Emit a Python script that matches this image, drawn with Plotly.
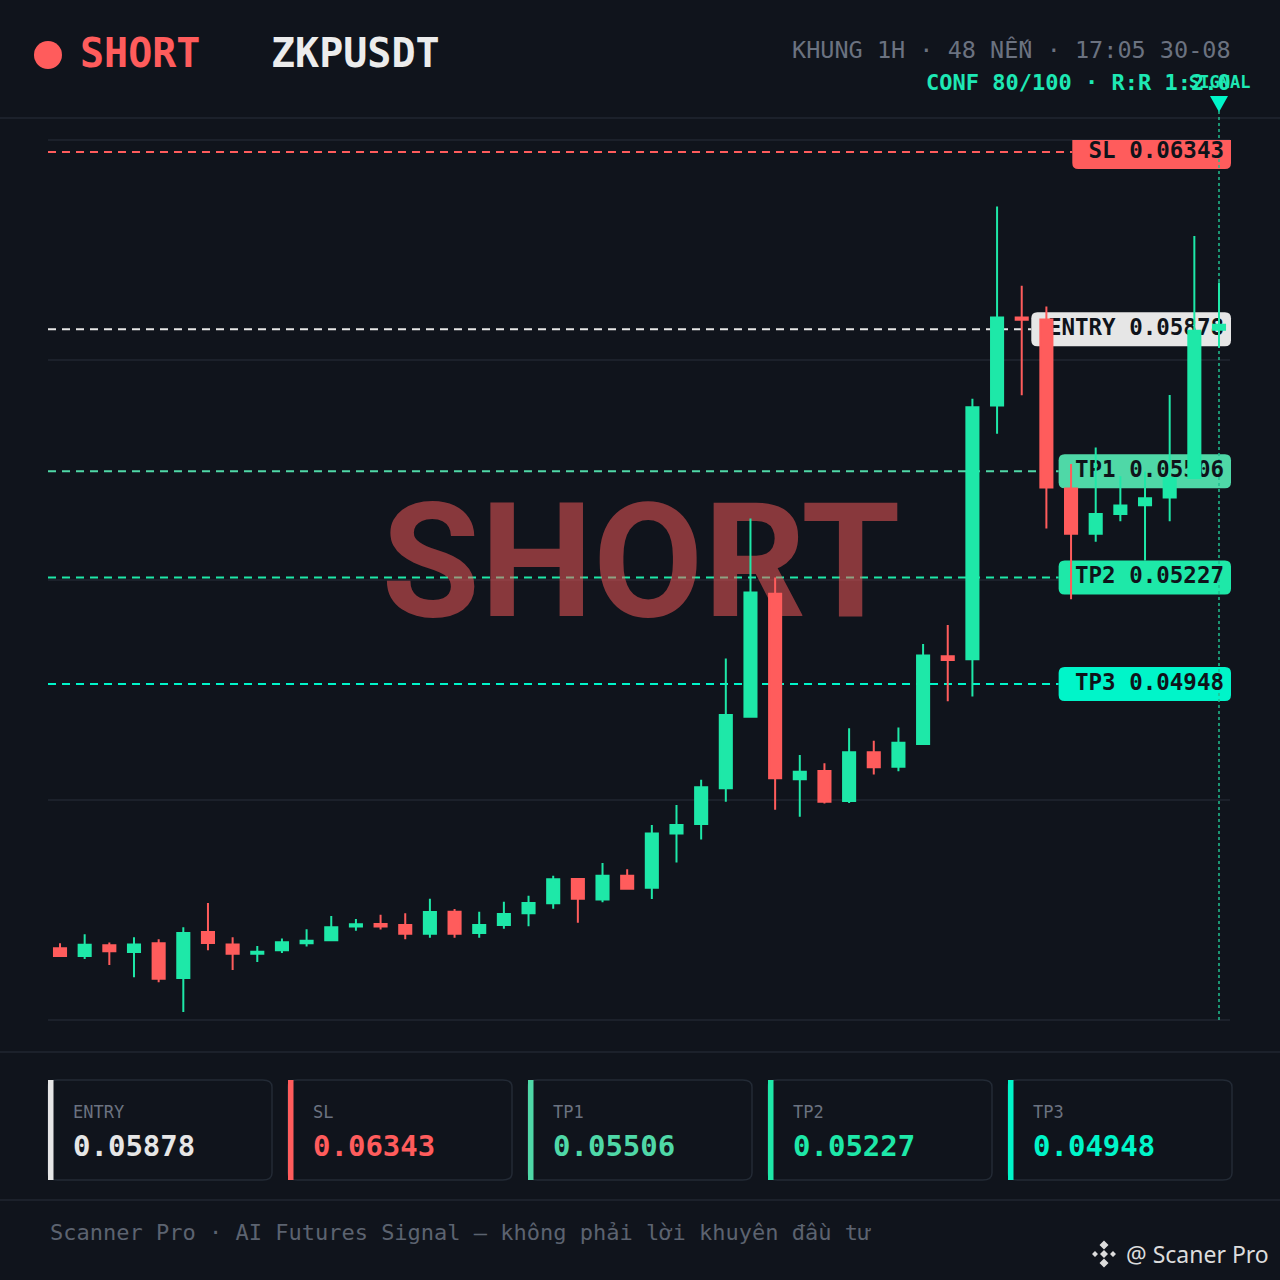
import plotly.graph_objects as go

# ---- signal info ----
side = "SHORT"
symbol = "ZKPUSDT"
header_info = "KHUNG 1H · 48 NẾN · 17:05 30-08"
conf_info = "CONF 80/100 · R:R 1:2.0"
footer_text = "Scanner Pro · AI Futures Signal — không phải lời khuyên đầu tư"
brand = "@ Scaner Pro"

# ---- 48 hourly candles ----
opens = [0.04255, 0.04235, 0.04263, 0.04245, 0.04268, 0.04177, 0.04298, 0.04265,
         0.04241, 0.04250, 0.04268, 0.04276, 0.04312, 0.04319, 0.04316, 0.04293,
         0.04351, 0.04295, 0.04316, 0.04347, 0.04373, 0.04437, 0.04383, 0.04445,
         0.04414, 0.04556, 0.04581, 0.04675, 0.04862, 0.05185, 0.04698, 0.04720,
         0.04641, 0.04769, 0.04731, 0.04791, 0.05021, 0.05013, 0.05678, 0.05909,
         0.05904, 0.05461, 0.05342, 0.05394, 0.05417, 0.05437, 0.05488, 0.05877]
highs = [0.04268, 0.04292, 0.04270, 0.04284, 0.04279, 0.04310, 0.04374, 0.04284,
         0.04261, 0.04281, 0.04305, 0.04340, 0.04332, 0.04343, 0.04347, 0.04385,
         0.04358, 0.04351, 0.04377, 0.04393, 0.04445, 0.04439, 0.04479, 0.04462,
         0.04578, 0.04631, 0.04697, 0.05015, 0.05382, 0.05227, 0.04762, 0.04740,
         0.04832, 0.04799, 0.04834, 0.05053, 0.05103, 0.05696, 0.06200, 0.05992,
         0.05938, 0.05525, 0.05568, 0.05493, 0.05505, 0.05706, 0.06123, 0.06001]
lows = [0.04232, 0.04227, 0.04211, 0.04179, 0.04166, 0.04088, 0.04250, 0.04198,
        0.04219, 0.04243, 0.04260, 0.04274, 0.04301, 0.04304, 0.04279, 0.04283,
        0.04283, 0.04283, 0.04306, 0.04313, 0.04359, 0.04322, 0.04376, 0.04411,
        0.04384, 0.04480, 0.04540, 0.04639, 0.04861, 0.04618, 0.04600, 0.04635,
        0.04636, 0.04711, 0.04719, 0.04790, 0.04903, 0.04915, 0.05604, 0.05705,
        0.05356, 0.05170, 0.05321, 0.05375, 0.05272, 0.05375, 0.05488, 0.05830]
closes = [0.04235, 0.04264, 0.04247, 0.04265, 0.04175, 0.04295, 0.04269, 0.04241,
          0.04246, 0.04271, 0.04275, 0.04310, 0.04318, 0.04312, 0.04293, 0.04350,
          0.04293, 0.04316, 0.04345, 0.04374, 0.04436, 0.04385, 0.04445, 0.04411,
          0.04556, 0.04578, 0.04677, 0.04867, 0.05188, 0.04701, 0.04718, 0.04639,
          0.04769, 0.04730, 0.04794, 0.05023, 0.05011, 0.05674, 0.05909, 0.05903,
          0.05463, 0.05342, 0.05394, 0.05416, 0.05435, 0.05488, 0.05874, 0.05890]

# ---- trade levels ----
level_names = ["SL", "ENTRY", "TP1", "TP2", "TP3"]
level_values = [0.06343, 0.05878, 0.05506, 0.05227, 0.04948]
card_names = ["ENTRY", "SL", "TP1", "TP2", "TP3"]
card_values = [0.05878, 0.06343, 0.05506, 0.05227, 0.04948]

# colours
BG = "#10141c"
LINE = "#1c212b"
RED = "#ff5c5c"
GREEN = "#1ee8a8"
level_colors = {"SL": RED, "ENTRY": "#e6e6e6", "TP1": "#4fd8a7", "TP2": "#1ee8a8", "TP3": "#00f5c9"}
MONO = "DejaVu Sans Mono"

# plot box in pixels
W, H = 1280, 1280
PL, PR, PT, PB = 48, 1230, 140, 1020
x_range = [-0.487, 47.446]
y_range = [0.04067, 0.063745]


def fx(px):
    return (px - PL) / (PR - PL)


def fy(py):
    return (PB - py) / (PB - PT)


def dx(px):
    return x_range[0] + fx(px) * (x_range[1] - x_range[0])


def dy(py):
    return y_range[0] + fy(py) * (y_range[1] - y_range[0])


def rrect(x0, y0, x1, y1, r):
    return (f"M {x0+r},{y0} L {x1-r},{y0} Q {x1},{y0} {x1},{y0+r} L {x1},{y1-r} "
            f"Q {x1},{y1} {x1-r},{y1} L {x0+r},{y1} Q {x0},{y1} {x0},{y1-r} "
            f"L {x0},{y0+r} Q {x0},{y0} {x0+r},{y0} Z")


fig = go.Figure()

# big watermark, sits under the candles
fig.add_trace(go.Scatter(x=[dx(641)], y=[dy(576)], mode="text", text=[side],
                         textfont=dict(family="Roboto", size=160, color="rgba(255,92,92,0.5)", weight=700),
                         hoverinfo="skip", showlegend=False))

# level tag texts (drawn under the candles too)
tag_texts = [f"{n} {v:.5f}" for n, v in zip(level_names, level_values)]
fig.add_trace(go.Scatter(x=[dx(1224)] * len(level_values), y=level_values, mode="text",
                         text=tag_texts, textposition="middle left",
                         textfont=dict(family=MONO, size=22.5, color="#0f131a", weight=700),
                         hoverinfo="skip", showlegend=False))

# candles on an overlaying axis so they are drawn on top
fig.add_trace(go.Candlestick(
    x=list(range(len(opens))), open=opens, high=highs, low=lows, close=closes,
    xaxis="x2", yaxis="y2", showlegend=False, whiskerwidth=0,
    increasing=dict(line=dict(color=GREEN, width=2), fillcolor=GREEN),
    decreasing=dict(line=dict(color=RED, width=2), fillcolor=RED)))

shapes = []
# grid
for f in [0, 0.25, 0.5, 0.75, 1]:
    shapes.append(dict(type="line", xref="paper", yref="paper", x0=0, x1=1, y0=f, y1=f,
                       line=dict(color=LINE, width=2), layer="below"))
# section separators
for py in [118, 1052, 1200]:
    shapes.append(dict(type="line", xref="paper", yref="paper", x0=fx(0), x1=fx(W), y0=fy(py), y1=fy(py),
                       line=dict(color=LINE, width=2), layer="below"))

# level lines + tags
for name, val, txt in zip(level_names, level_values, tag_texts):
    col = level_colors[name]
    w = len(txt) * 13.67 + 22
    shapes.append(dict(type="line", xref="paper", yref="y", x0=0, x1=fx(1231 - w), y0=val, y1=val,
                       line=dict(color=col, width=2, dash="8px,6px"), layer="below"))
    shapes.append(dict(type="path", xref="paper", yref="y", xsizemode="pixel", ysizemode="pixel",
                       xanchor=fx(1231), yanchor=val, path=rrect(-w, -17, 0, 17, 6),
                       fillcolor=col, line=dict(width=0), layer="below"))

# signal marker on last candle
shapes.append(dict(type="line", xref="x", yref="paper", x0=len(opens) - 1, x1=len(opens) - 1,
                   y0=0, y1=fy(108), line=dict(color="#1fbf8f", width=1.5, dash="dot"), layer="below"))
shapes.append(dict(type="path", xref="x", yref="paper", xsizemode="pixel", ysizemode="pixel",
                   xanchor=len(opens) - 1, yanchor=fy(104), path="M -9,8 L 9,8 L 0,-8 Z",
                   fillcolor="#00f5c9", line=dict(width=0)))

# header dot
shapes.append(dict(type="circle", xref="paper", yref="paper", x0=fx(34), x1=fx(62), y0=fy(41), y1=fy(69),
                   fillcolor=RED, line=dict(width=0)))

annotations = []


def add_text(px, py, text, size, color, anchor="left", weight=400, family=MONO):
    annotations.append(dict(xref="paper", yref="paper", x=fx(px), y=fy(py), text=text, showarrow=False,
                            xanchor=anchor, yanchor="middle",
                            font=dict(family=family, size=size, color=color, weight=weight)))


add_text(78, 53, side, 40, RED, weight=700)
add_text(269, 53, symbol, 40, "#ececec", weight=700)
add_text(1233, 50, header_info, 23.5, "#6b7280", anchor="right")
add_text(1233, 82, conf_info, 22, "#1ee8b4", anchor="right", weight=700)
annotations.append(dict(xref="x", yref="paper", x=len(opens) - 1, y=fy(82), text="SIGNAL", showarrow=False,
                        xanchor="center", yanchor="middle",
                        font=dict(family=MONO, size=17, color="#1ee8b4", weight=700)))

# cards
for i, (name, val) in enumerate(zip(card_names, card_values)):
    col = level_colors[name]
    x0 = 48 + i * 240
    shapes.append(dict(type="path", xref="paper", yref="paper",
                       path=rrect(fx(x0), fy(1180), fx(x0 + 224), fy(1080), 0.008),
                       line=dict(color="#232a35", width=1.5), fillcolor=BG))
    shapes.append(dict(type="rect", xref="paper", yref="paper", x0=fx(x0), x1=fx(x0 + 5.5),
                       y0=fy(1180), y1=fy(1080), fillcolor=col, line=dict(width=0)))
    add_text(x0 + 23, 1112, name, 17, "#6b7280")
    add_text(x0 + 23, 1146, f"{val:.5f}", 29, col, weight=700)

add_text(48, 1232, footer_text, 22, "#5c6370")

# brand mark bottom right
diamonds = []
for cx, cy, r in [(0, 0, 4), (-9, 0, 3), (9, 0, 3), (0, 9, 4.5), (0, -9, 4.5)]:
    diamonds.append(f"M {cx-r},{cy} L {cx},{cy+r} L {cx+r},{cy} L {cx},{cy-r} Z")
shapes.append(dict(type="path", xref="paper", yref="paper", xsizemode="pixel", ysizemode="pixel",
                   xanchor=fx(1104), yanchor=fy(1254), path=" ".join(diamonds),
                   fillcolor="#dcdcdc", line=dict(width=0)))
add_text(1271, 1254, brand, 23, "#dcdcdc", anchor="right", family="Noto Sans")

axis_off = dict(visible=False, showgrid=False, zeroline=False, fixedrange=True)
fig.update_layout(
    width=W, height=H,
    margin=dict(l=PL, r=W - PR, t=PT, b=H - PB),
    paper_bgcolor=BG, plot_bgcolor="rgba(0,0,0,0)",
    showlegend=False,
    xaxis=dict(range=x_range, rangeslider=dict(visible=False), **axis_off),
    yaxis=dict(range=y_range, **axis_off),
    xaxis2=dict(range=x_range, overlaying="x", anchor="y2", rangeslider=dict(visible=False), **axis_off),
    yaxis2=dict(range=y_range, overlaying="y", anchor="x2", **axis_off),
    shapes=shapes, annotations=annotations,
)

fig.write_html("out.html", config=dict(displayModeBar=False),
               post_script="document.body.style.margin='0';")
